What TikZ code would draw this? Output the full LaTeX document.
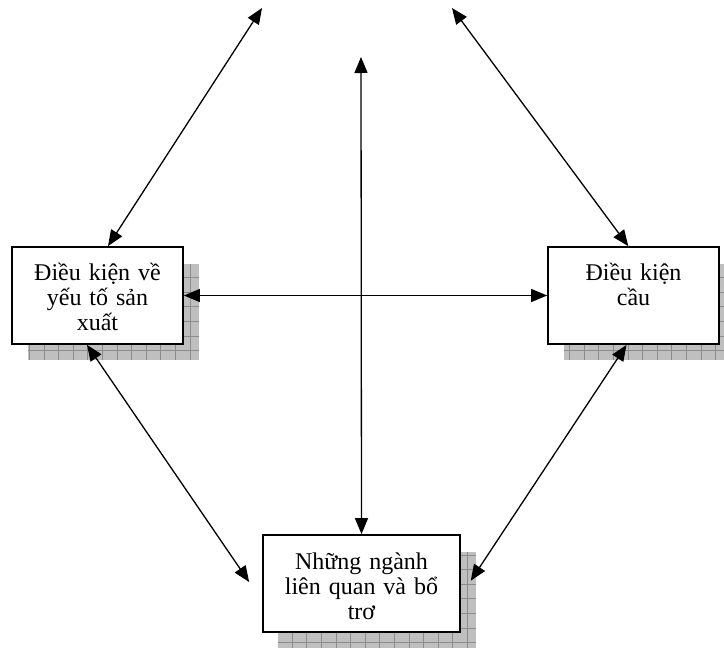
\documentclass[tikz,border=0pt]{standalone}
\usepackage{fontspec}
\setmainfont{Liberation Serif}
\usetikzlibrary{arrows.meta,positioning}

\begin{document}
\begin{tikzpicture}[x=1pt,y=-1pt,
	>={Triangle[length=16pt,width=13pt]},
	factor/.style={draw,line width=1.7pt,fill=white,minimum width=171pt,minimum height=97pt,inner sep=0pt},
	words/.style={align=center,text width=175pt,inner sep=0pt,font=\fontsize{24}{25}\selectfont},
	link/.style={<->,line width=1.3pt}]
	\useasboundingbox (0,0) rectangle (724,648);
	% shadows
	\foreach \a/\b/\c/\d in {28/264/199/360,564/264/724/360,278/552/476/648}{
		\fill[black!25] (\a,\b) rectangle (\c,\d);
		\draw[black!45,line width=0.5pt,step=14.6pt] (\a,\d) grid (\c,\b);
	}
	\node[factor] (fac) at (97.5,295.5) {};
	\node[words,below=34pt of fac.north,anchor=base] (fac-text) {Điều kiện về\\yếu tố sản\\xuất};
	\node[factor] (dem) at (633.5,295.5) {};
	\node[words,below=34pt of dem.north,anchor=base] (dem-text) {Điều kiện\\cầu};
	\node[factor,minimum width=197pt] (rel) at (361.5,583.5) {};
	\node[words,below=35pt of rel.north,anchor=base] (rel-text) {Những ngành\\liên quan và bổ\\trơ};
	\coordinate (tl) at (262,8);
	\coordinate (tr) at (452,8);
	\coordinate (tc) at (361,57);
	\path[link]
	(tl) edge (fac.78)
	(tr) edge (dem.96)
	(tc) edge (rel.north)
	(fac.east) edge (dem.west)
	(fac.258) edge[shorten >=23pt] (rel.190)
	(dem.262) edge[shorten >=18pt] (rel.353);
\end{tikzpicture}
\end{document}
